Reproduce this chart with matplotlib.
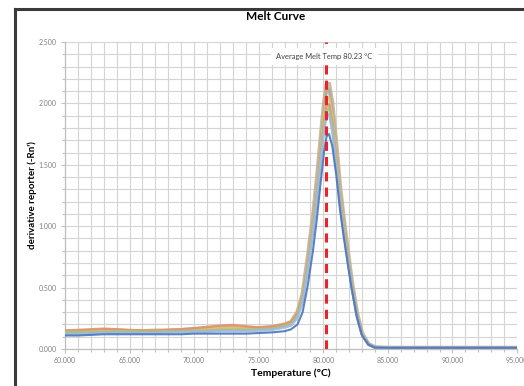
import matplotlib
matplotlib.use("Agg")
import matplotlib.pyplot as plt
from matplotlib.lines import Line2D
from matplotlib.ticker import MultipleLocator, FormatStrFormatter

plt.rcParams['font.family'] = ['Lato', 'DejaVu Sans']

temps = [60, 61, 62, 63, 64, 65, 66, 67, 68, 69, 70, 71, 72, 73, 74, 75, 76,
         76.5, 77, 77.5, 78, 78.4, 78.8, 79.2, 79.5, 79.8, 80.05, 80.25, 80.45,
         80.7, 81.0, 81.3, 81.6, 81.9, 82.2, 82.6, 83.0, 83.5, 84.0,
         85, 86, 87, 88, 89, 90, 91, 92, 93, 94, 95]

tail = [0.01] * 11

tan = ([0.14, 0.14, 0.145, 0.15, 0.15, 0.145, 0.145, 0.15, 0.15, 0.155, 0.16, 0.165, 0.17, 0.175, 0.17, 0.17, 0.18]
       + [0.19, 0.20, 0.22, 0.30, 0.45, 0.75, 1.08, 1.38, 1.72, 2.00, 2.15, 2.16, 2.00, 1.68, 1.32, 1.05, 0.80, 0.56, 0.30, 0.13, 0.04, 0.015]
       + tail)
gray = ([0.13, 0.135, 0.14, 0.14, 0.14, 0.14, 0.14, 0.145, 0.145, 0.15, 0.15, 0.155, 0.16, 0.16, 0.16, 0.165, 0.17]
        + [0.18, 0.19, 0.21, 0.28, 0.43, 0.72, 1.04, 1.34, 1.67, 1.95, 2.10, 2.11, 1.95, 1.64, 1.29, 1.02, 0.78, 0.55, 0.29, 0.12, 0.04, 0.014]
        + tail)
yellow = ([0.15, 0.15, 0.15, 0.155, 0.155, 0.15, 0.15, 0.15, 0.155, 0.16, 0.16, 0.165, 0.17, 0.17, 0.17, 0.17, 0.175]
          + [0.185, 0.195, 0.215, 0.29, 0.44, 0.71, 1.02, 1.31, 1.63, 1.90, 2.04, 2.05, 1.90, 1.60, 1.25, 1.00, 0.76, 0.53, 0.28, 0.12, 0.04, 0.014]
          + tail)
orange = ([0.15, 0.155, 0.16, 0.165, 0.16, 0.155, 0.15, 0.15, 0.155, 0.16, 0.17, 0.18, 0.19, 0.195, 0.185, 0.175, 0.18]
          + [0.19, 0.20, 0.22, 0.29, 0.43, 0.69, 0.99, 1.27, 1.58, 1.84, 1.98, 1.99, 1.84, 1.55, 1.21, 0.97, 0.74, 0.52, 0.28, 0.12, 0.04, 0.014]
          + tail)
green = ([0.14, 0.14, 0.14, 0.14, 0.145, 0.145, 0.14, 0.14, 0.145, 0.145, 0.15, 0.15, 0.155, 0.155, 0.155, 0.16, 0.165]
         + [0.175, 0.185, 0.205, 0.27, 0.41, 0.67, 0.97, 1.25, 1.56, 1.81, 1.95, 1.96, 1.81, 1.52, 1.20, 0.95, 0.73, 0.51, 0.27, 0.12, 0.04, 0.013]
         + tail)
lightblue = ([0.12, 0.12, 0.125, 0.13, 0.13, 0.13, 0.13, 0.13, 0.135, 0.135, 0.14, 0.14, 0.145, 0.145, 0.145, 0.15, 0.155]
             + [0.165, 0.175, 0.19, 0.25, 0.38, 0.64, 0.94, 1.22, 1.52, 1.77, 1.90, 1.91, 1.77, 1.49, 1.17, 0.93, 0.71, 0.50, 0.27, 0.12, 0.04, 0.013]
             + tail)
blue = ([0.11, 0.11, 0.115, 0.12, 0.12, 0.12, 0.12, 0.12, 0.12, 0.12, 0.125, 0.125, 0.125, 0.125, 0.125, 0.13, 0.135]
        + [0.14, 0.145, 0.16, 0.20, 0.30, 0.52, 0.80, 1.06, 1.36, 1.60, 1.73, 1.75, 1.65, 1.42, 1.13, 0.90, 0.69, 0.49, 0.26, 0.11, 0.035, 0.012]
        + tail)

series = [tan, gray, yellow, orange, green, lightblue, blue]
colors = ["#C8B494", "#B0AAA0", "#E0C27A", "#E0926A", "#A8C090", "#9DBCDC", "#4A74BE"]
widths = [3.0, 2.0, 1.8, 1.8, 1.8, 1.8, 1.5]

avg_melt = 80.23
title = "Melt Curve"
xlabel = "Temperature (°C)"
ylabel = "derivative reporter (-Rn')"
annot = "Average Melt Temp 80.23 °C"

W, H = 524, 386
fig = plt.figure(figsize=(W / 100, H / 100), dpi=100)
fig.patch.set_facecolor("white")
ax = fig.add_axes([65 / W, 37 / H, (517 - 65) / W, (349 - 42) / H])

for s, c, lw in zip(series, colors, widths):
    ax.plot(temps, s, color=c, lw=lw, alpha=0.9, solid_joinstyle="round", zorder=3)

ax.axvline(avg_melt, color="#E8262A", lw=2.2, dashes=(3, 2), zorder=4)

ax.set_xlim(60, 95)
ax.set_ylim(0, 2.5)
ax.xaxis.set_major_locator(MultipleLocator(5))
ax.xaxis.set_minor_locator(MultipleLocator(1))
ax.yaxis.set_major_locator(MultipleLocator(0.5))
ax.yaxis.set_minor_locator(MultipleLocator(0.1))
ax.xaxis.set_major_formatter(FormatStrFormatter("%.3f"))
ax.yaxis.set_major_formatter(FormatStrFormatter("%.3f"))
ax.grid(which="both", color="#D4D4D4", lw=0.8, zorder=0)
ax.set_axisbelow(True)
for sp in ["top", "right"]:
    ax.spines[sp].set_visible(False)
for sp in ["left", "bottom"]:
    ax.spines[sp].set_color("#BFBFBF")
    ax.spines[sp].set_linewidth(0.9)
ax.tick_params(which="both", colors="#BFBFBF", labelcolor="#7F7F7F", labelsize=5, width=0.8)
ax.tick_params(which="major", length=3, pad=3)
ax.tick_params(which="minor", length=2)

ax.text(80.1, 2.38, annot, ha="center", va="center", fontsize=5.4, color="#404040",
        bbox=dict(boxstyle="square,pad=0.7", fc="white", ec="none"), zorder=5)

fig.text(276 / W, 1 - 17 / H, title, ha="center", va="center", fontsize=8.5, fontweight="bold")
fig.text(291 / W, 1 - 373 / H, xlabel, ha="center", va="center", fontsize=7.5, fontweight="bold")
fig.text(32 / W, 1 - 195 / H, ylabel, ha="center", va="center", rotation=90, fontsize=7, fontweight="bold")

fig.add_artist(Line2D([15 / W, 15 / W], [0, 1 - 8.5 / H], transform=fig.transFigure, color="#3A3A3A", lw=2.2))
fig.add_artist(Line2D([15 / W, 1], [1 - 8.5 / H, 1 - 8.5 / H], transform=fig.transFigure, color="#3A3A3A", lw=2.2))

fig.savefig("out.png", dpi=100)
